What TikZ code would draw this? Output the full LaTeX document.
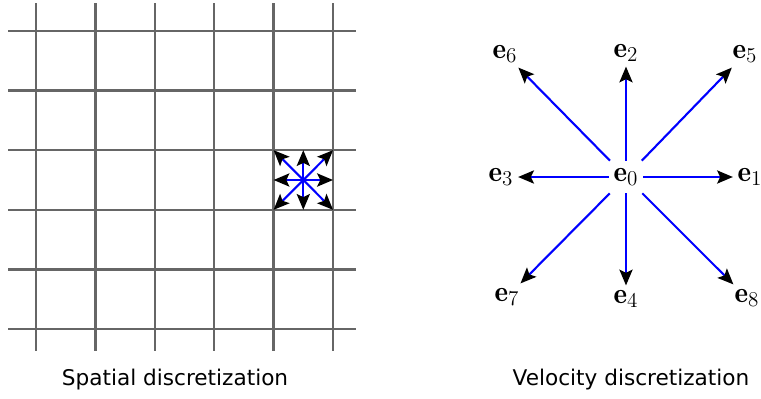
\documentclass[tikz,border=0pt]{standalone}
\usepackage{fontspec}
\setsansfont{DejaVu Sans}
\usetikzlibrary{arrows.meta}

\tikzset{
	gridline/.style={draw=black!60, line width=1.4pt},
	vel/.style={draw=blue, line width=1.2pt, -{Stealth[black, length=9pt, width=7.5pt, inset=1.8pt]}},
	veclabel/.style={font=\fontsize{16.5}{19}\selectfont, inner sep=2.5pt},
	caption/.style={font=\sffamily\fontsize{12.3}{15}\selectfont}
}

\begin{document}
\begin{tikzpicture}[x=0.02cm, y=-0.02cm]
	\useasboundingbox (0,0) rectangle (761,399);
	
	% Red espacial
	\foreach \k in {0,...,5} {
		\draw[gridline] ({36+59.4*\k},3) -- ({36+59.4*\k},351);
		\draw[gridline] (8,{31+59.6*\k}) -- (356,{31+59.6*\k});
	}
	
	% Velocidades en una celda
	\coordinate (cell) at (303.3,180);
	\foreach \dx/\dy in {1/0,1/1,0/1,-1/1,-1/0,-1/-1,0/-1,1/-1}
		\draw[vel] (cell) -- ++({29.7*\dx},{29.8*\dy});
	
	\node[caption] (spatial) at (175,380) {Spatial discretization};
	
	% Velocidades discretas
	\node[veclabel, minimum width=0.68cm, minimum height=0.64cm] (e0) at (626,177) {$\mathbf{e}_0$};
	\node[veclabel] (e1) at (750,177) {$\mathbf{e}_1$};
	\node[veclabel] (e2) at (626,53) {$\mathbf{e}_2$};
	\node[veclabel] (e3) at (501,177) {$\mathbf{e}_3$};
	\node[veclabel] (e4) at (626,299) {$\mathbf{e}_4$};
	\node[veclabel] (e5) at (745,54) {$\mathbf{e}_5$};
	\node[veclabel] (e6) at (505,54) {$\mathbf{e}_6$};
	\node[veclabel] (e7) at (507,297) {$\mathbf{e}_7$};
	\node[veclabel] (e8) at (747,298) {$\mathbf{e}_8$};
	\foreach \n in {1,...,8}
		\draw[vel] (e0) -- (e\n);
	
	\node[caption] (velocity) at (631,380) {Velocity discretization};
\end{tikzpicture}
\end{document}
